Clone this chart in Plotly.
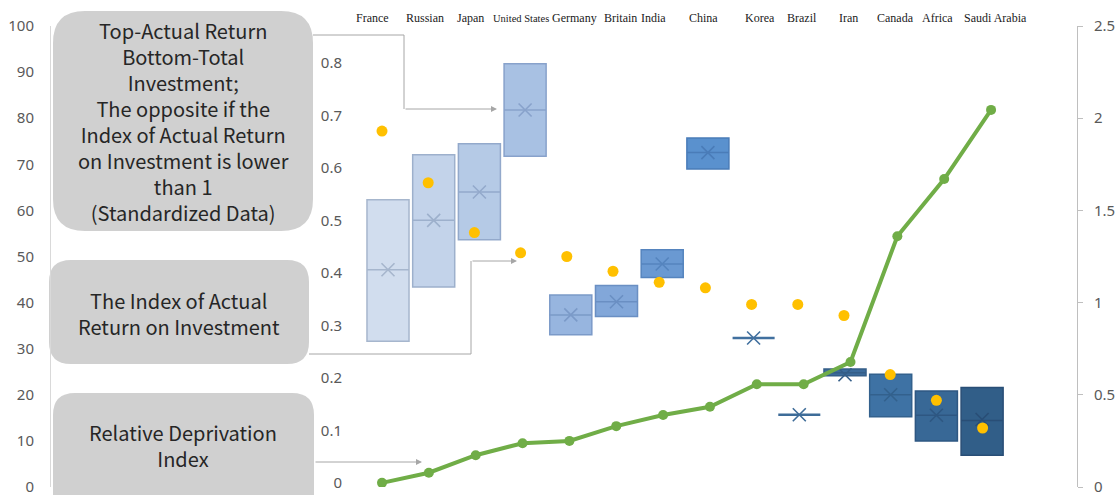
import plotly.graph_objects as go

# ---------------- data ----------------
COUNTRIES = ["France", "Russian", "Japan", "United States", "Germany", "Britain", "India",
             "China", "Korea", "Brazil", "Iran", "Canada", "Africa", "Saudi Arabia"]

# Relative Deprivation Index (left axis, 0-100)
DEPRIVATION = [0.9, 3.1, 6.9, 9.5, 10.0, 13.2, 15.6, 17.4, 22.3, 22.3, 27.1, 54.4, 66.8, 81.8]

# Index of Actual Return on Investment (right axis, 0-2.5)
RETURN_INDEX = [1.93, 1.65, 1.38, 1.27, 1.25, 1.17, 1.11, 1.08, 0.99, 0.99, 0.93, 0.61, 0.47, 0.32]

# Standardized data boxes (middle axis, 0-0.8)
BOX_TOP = [0.539, 0.625, 0.646, 0.798, 0.358, 0.376, 0.444, 0.657, 0.276, 0.130, 0.217, 0.207, 0.175, 0.182]
BOX_BOTTOM = [0.270, 0.373, 0.463, 0.622, 0.282, 0.317, 0.391, 0.598, 0.276, 0.130, 0.204, 0.126, 0.080, 0.053]
BOX_MEDIAN = [0.406, 0.500, 0.554, 0.710, 0.320, 0.345, 0.417, 0.629, 0.276, 0.130, 0.210, 0.168, 0.129, 0.119]
BOX_MEAN = [0.406, 0.500, 0.554, 0.710, 0.320, 0.345, 0.417, 0.629, 0.276, 0.130, 0.206, 0.168, 0.129, 0.121]

LEFT_TICKS = list(range(0, 101, 10))
MID_TICKS = [0, 0.1, 0.2, 0.3, 0.4, 0.5, 0.6, 0.7, 0.8]
RIGHT_TICKS = [0, 0.5, 1, 1.5, 2, 2.5]

CALLOUT_TOP = ("Top-Actual Return<br>Bottom-Total<br>Investment;<br>The opposite if the<br>"
               "Index of Actual Return<br>on Investment is lower<br>than 1<br>(Standardized Data)")
CALLOUT_MID = "The Index of Actual<br>Return on Investment"
CALLOUT_LOW = "Relative Deprivation<br>Index"

# ---------------- styles ----------------
FILL = ['#D1DDEE', '#C3D3EA', '#B5CAE6', '#A8C1E3', '#97B5DF', '#82A7D9', '#6A99D2', '#5A91CE',
        '#4A7EB3', '#41709F', '#3B6B9B', '#3E72A4', '#386896', '#315E88']
EDGE = ['#A6B6CD', '#9DB0CC', '#93A9CB', '#88A2CB', '#7B9AC8', '#6A8FC3', '#5584BE', '#4A7CB8',
        '#41709F', '#3E6C98', '#345E88', '#33618D', '#2E5782', '#294E76']
LABEL_DX = [-16, -9, -9, -4, 4, 4, -9, -4, 6, 3, 3, 5, 1, 13]
LABEL_SIZE = [12, 12, 12, 10.5, 12, 12, 12, 12, 12, 12, 12, 12, 12, 12]

W, H = 1118, 495
ML, MR, MT, MB = 50, 41, 26, 8
PW = W - ML - MR
PH = H - MT - MB


def px(x):
    return (x - ML) / PW


def py(y):
    return (H - MB - y) / PH


AXIS_FONT = dict(family="Noto Sans, Open Sans, sans-serif", size=15, color="#595959")
GREY = "#A6A6A6"

fig = go.Figure()

# boxes (base subplot x / y = middle axis)
for i, c in enumerate(COUNTRIES):
    fig.add_trace(go.Box(
        x=[c], q1=[BOX_BOTTOM[i]], median=[BOX_MEDIAN[i]], q3=[BOX_TOP[i]],
        lowerfence=[BOX_BOTTOM[i]], upperfence=[BOX_TOP[i]],
        fillcolor=FILL[i], line=dict(color=EDGE[i], width=1.5 if BOX_TOP[i] != BOX_BOTTOM[i] else 2.5),
        width=0.92, whiskerwidth=0, boxpoints=False,
        xaxis="x", yaxis="y", showlegend=False, hoverinfo="skip"))

fig.add_trace(go.Scatter(
    x=COUNTRIES, y=BOX_MEAN, mode="markers", xaxis="x", yaxis="y",
    marker=dict(symbol="x-thin", size=13, line=dict(color=EDGE, width=1.6)),
    showlegend=False, hoverinfo="skip"))

# green line (left axis)
fig.add_trace(go.Scatter(
    x=COUNTRIES, y=DEPRIVATION, mode="lines+markers", xaxis="x2", yaxis="y2",
    line=dict(color="#70AD47", width=4), marker=dict(color="#70AD47", size=10),
    showlegend=False, hoverinfo="skip"))

# orange dots (right axis)
fig.add_trace(go.Scatter(
    x=COUNTRIES, y=RETURN_INDEX, mode="markers", xaxis="x3", yaxis="y3",
    marker=dict(color="#FFC000", size=11),
    showlegend=False, hoverinfo="skip"))

fig.update_layout(
    width=W, height=H, margin=dict(l=ML, r=MR, t=MT, b=MB, autoexpand=False),
    paper_bgcolor="white", plot_bgcolor="rgba(0,0,0,0)",
    boxmode="overlay",
    xaxis=dict(type="category", categoryorder="array", categoryarray=COUNTRIES, automargin=False,
               range=[-(388 - ML) / 45.7, (W - MR - 388) / 45.7], visible=False, anchor="y"),
    yaxis=dict(range=[-0.0076, 0.870], tickvals=MID_TICKS, anchor="free", position=px(342),
               automargin=False, ticklabeloverflow="allow",
               showline=False, showgrid=False, zeroline=False, ticks="", tickfont=AXIS_FONT),
    xaxis2=dict(type="category", categoryorder="array", categoryarray=COUNTRIES, overlaying="x",
                automargin=False,
                range=[-(382 - ML) / 46.85, (W - MR - 382) / 46.85], visible=False, anchor="y2"),
    yaxis2=dict(range=[0, 100], tickvals=LEFT_TICKS, overlaying="y", side="left", anchor="free",
                position=0, showline=True, linecolor="#D9D9D9", linewidth=1, showgrid=False,
                automargin=False, ticklabeloverflow="allow",
                zeroline=False, ticks="", ticklabelstandoff=13, tickfont=AXIS_FONT),
    xaxis3=dict(type="category", categoryorder="array", categoryarray=COUNTRIES, overlaying="x",
                automargin=False,
                range=[-(382 - ML) / 46.2, (W - MR - 382) / 46.2], visible=False, anchor="y3"),
    yaxis3=dict(range=[0, 2.5], tickvals=RIGHT_TICKS, overlaying="y", side="right", anchor="free",
                position=1, showline=True, linecolor="#BFBFBF", linewidth=1, showgrid=False,
                automargin=False, ticklabeloverflow="allow",
                zeroline=False, ticks="outside", ticklen=5, tickcolor="#BFBFBF",
                ticklabelstandoff=8, tickfont=AXIS_FONT),
)

# country labels along the top
for i, c in enumerate(COUNTRIES):
    fig.add_annotation(x=c, xref="x", y=py(18), yref="paper", text=c, showarrow=False,
                       xshift=LABEL_DX[i], yanchor="middle", xanchor="center",
                       font=dict(family="Liberation Serif, Times New Roman, serif",
                                 size=LABEL_SIZE[i], color="#1a1a1a"))


def rounded_rect(x0, y0, x1, y1, r):
    return (f"M {px(x0 + r)},{py(y0)} L {px(x1 - r)},{py(y0)} "
            f"Q {px(x1)},{py(y0)} {px(x1)},{py(y0 + r)} L {px(x1)},{py(y1 - r)} "
            f"Q {px(x1)},{py(y1)} {px(x1 - r)},{py(y1)} L {px(x0 + r)},{py(y1)} "
            f"Q {px(x0)},{py(y1)} {px(x0)},{py(y1 - r)} L {px(x0)},{py(y0 + r)} "
            f"Q {px(x0)},{py(y0)} {px(x0 + r)},{py(y0)} Z")


def polyline(points):
    return "M " + " L ".join(f"{px(x)},{py(y)}" for x, y in points)


CALLOUT_FILL = "#D0D0D0"
for (x0, y0, x1, y1, r) in [(53, 11, 313, 231, 32), (49, 260, 309, 364, 22), (53, 393, 314, 520, 22)]:
    fig.add_shape(type="path", path=rounded_rect(x0, y0, x1, y1, r), xref="paper", yref="paper",
                  fillcolor=CALLOUT_FILL, line=dict(width=0), layer="below")

TEXT_FONT = dict(family="Noto Sans CJK SC, Noto Sans, sans-serif", size=20, color="#262626")
for (cx, cy, txt) in [(183, 122, CALLOUT_TOP), (179, 313, CALLOUT_MID), (183, 445, CALLOUT_LOW)]:
    fig.add_annotation(x=px(cx), y=py(cy), xref="paper", yref="paper", text=txt,
                       xanchor="center", yanchor="middle",
                       showarrow=False, font=TEXT_FONT, align="center")

# connectors
for pts in [[(313, 35), (404, 35), (404, 109)],
            [(309, 354), (471, 354), (471, 261)]]:
    fig.add_shape(type="path", path=polyline(pts), xref="paper", yref="paper",
                  line=dict(color=GREY, width=1))

for (tx, ty, hx, hy) in [(404, 109, 497, 109), (471, 261, 517, 261), (314, 462, 422, 462)]:
    fig.add_annotation(x=px(hx), y=py(hy), xref="paper", yref="paper", text="",
                       showarrow=True, ax=tx - hx, ay=ty - hy, axref="pixel", ayref="pixel",
                       arrowhead=2, arrowsize=1.2, arrowwidth=1, arrowcolor=GREY, standoff=0)

fig.write_html("out.html")
